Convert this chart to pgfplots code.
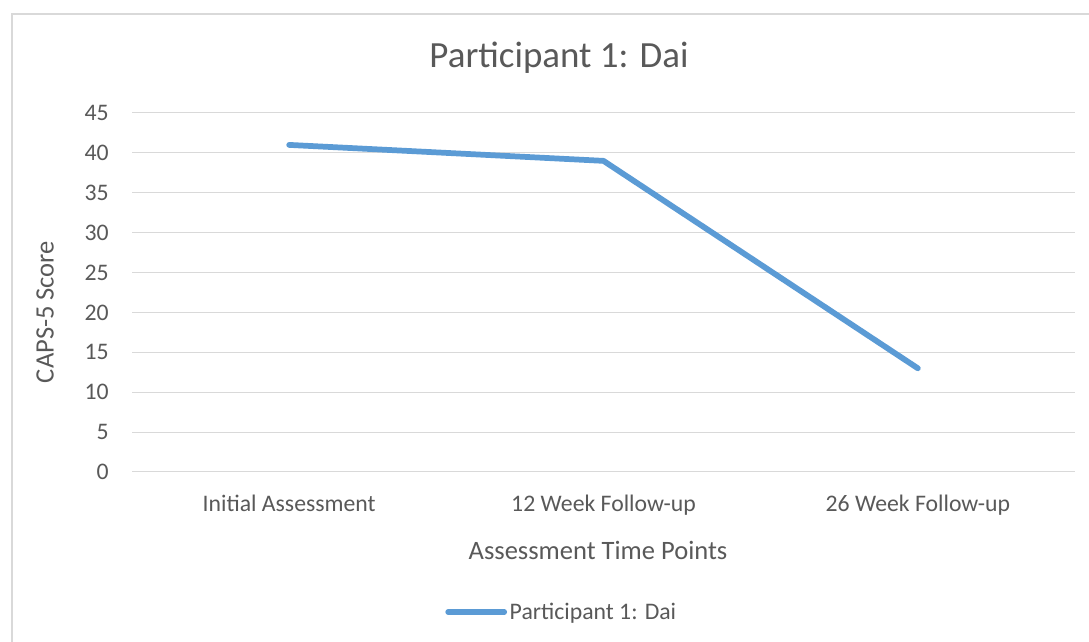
\documentclass[border=0pt]{standalone}
\usepackage{pgfplots}
\pgfplotsset{compat=1.18}
\usepackage{fontspec}
\setmainfont{Carlito}
\definecolor{txt}{HTML}{595959}
\definecolor{gridc}{HTML}{D9D9D9}
\definecolor{ser}{HTML}{5B9BD5}
\begin{document}
\begin{tikzpicture}[x=1pt,y=1pt]
\clip (0,0) rectangle (816.75,481.5);
\fill[white] (0,0) rectangle (816.75,481.5);
\draw[gridc, line width=1.1pt] (9,471) rectangle (840,-20);
\begin{axis}[
  at={(99pt,127.5pt)}, anchor=south west,
  scale only axis, width=707.25pt, height=269.25pt,
  xmin=-0.5, xmax=2.5, ymin=0, ymax=45,
  xtick={0,1,2},
  xticklabels={Initial Assessment,12 Week Follow-up,26 Week Follow-up},
  ytick={0,5,...,45},
  xmajorgrids=false,
  ymajorgrids=true, major grid style={draw=gridc, line width=0.75pt},
  axis line style={draw=none},
  major tick length=0pt,
  tick label style={text=txt, font=\fontsize{17.8}{21}\selectfont},
  /pgf/number format/assume math mode=true,
  yticklabel style={xshift=-14pt},
  xticklabel style={yshift=-14pt},
  clip=false,
  legend style={draw=none, fill=none, at={(0.332,-0.39)}, anchor=west,
     font=\fontsize{17.8}{21}\selectfont, text=txt, inner sep=0pt,
     legend cell align=left},
  legend image code/.code={\draw[#1, line cap=round] (0pt,0pt) -- (42pt,0pt);},
]
\addplot[ser, line width=4.3pt, line cap=round, line join=round] coordinates {(0,41) (1,39) (2,13)};
\addlegendentry{Participant 1: Dai}
\draw[gridc, line width=0.75pt] (axis cs:-0.5,0) -- (axis cs:2.5,0);
\end{axis}
\node[text=txt, font=\fontsize{27.7}{32}\selectfont] at (419.25,438) {Participant 1: Dai};
\node[text=txt, font=\fontsize{19.9}{24}\selectfont] at (448.5,69) {Assessment Time Points};
\node[text=txt, font=\fontsize{19.9}{24}\selectfont, rotate=90] at (33.75,247.5) {CAPS-5 Score};
\end{tikzpicture}
\end{document}
